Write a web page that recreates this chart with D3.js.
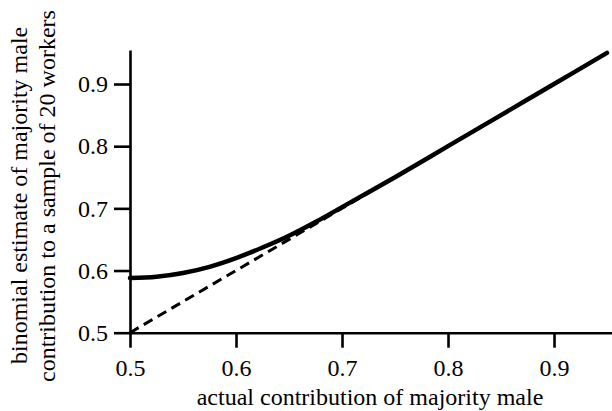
<!DOCTYPE html>
<html>
<head>
<meta charset="utf-8">
<script src="https://cdn.jsdelivr.net/npm/d3@7"></script>
<style>
  body { margin: 0; background: #fff; }
  svg { display: block; }
</style>
</head>
<body>
<script>
// actual contribution (x) and binomial estimate for a sample of 20 workers (y)
const actual = [0.50, 0.525, 0.55, 0.575, 0.60, 0.625, 0.65, 0.675, 0.70, 0.725, 0.75, 0.80, 0.85, 0.90, 0.95];
const estimate = [0.588, 0.590, 0.596, 0.606, 0.620, 0.637, 0.656, 0.678, 0.702, 0.726, 0.750, 0.800, 0.850, 0.900, 0.950];
// 1:1 reference line
const diagonal = [0.50, 0.95];
const xTicks = [0.5, 0.6, 0.7, 0.8, 0.9];
const yTicks = [0.5, 0.6, 0.7, 0.8, 0.9];
const xLabel = "actual contribution of majority male";
const yLabel = ["binomial estimate of majority male", "contribution to a sample of 20 workers"];

function createChart() {
    const width = 612;
    const height = 411;
    const font = "Liberation Serif";
    const fontSize = 24;

    const svg = d3.select("body")
        .append("svg")
        .attr("width", width)
        .attr("height", height);

    const x = d3.scaleLinear().domain([0.5, 0.9547]).range([130, 612]);
    const y = d3.scaleLinear().domain([0.5, 0.9547]).range([332.7, 50]);

    const xAxis = svg.append("g")
        .attr("transform", `translate(0,${y(0.5)})`)
        .call(d3.axisBottom(x).tickValues(xTicks).tickFormat(d3.format(".1f"))
            .tickSize(15).tickSizeOuter(0).tickPadding(11));

    const yAxis = svg.append("g")
        .attr("transform", `translate(${x(0.5)},0)`)
        .call(d3.axisLeft(y).tickValues(yTicks).tickFormat(d3.format(".1f"))
            .tickSize(16).tickSizeOuter(0).tickPadding(6));

    [xAxis, yAxis].forEach(g => {
        g.attr("font-family", font).attr("font-size", fontSize);
        g.selectAll("path, line").attr("stroke", "#000").attr("stroke-width", 2.6);
        g.selectAll("text").attr("fill", "#000");
    });

    // dashed diagonal
    svg.append("path")
        .datum(diagonal)
        .attr("fill", "none")
        .attr("stroke", "#000")
        .attr("stroke-width", 3)
        .attr("stroke-dasharray", "10,6")
        .attr("d", d3.line().x(d => x(d)).y(d => y(d)));

    // binomial estimate curve
    svg.append("path")
        .datum(actual.map((a, i) => [a, estimate[i]]))
        .attr("fill", "none")
        .attr("stroke", "#000")
        .attr("stroke-width", 4.5)
        .attr("stroke-linecap", "round")
        .attr("d", d3.line().x(d => x(d[0])).y(d => y(d[1])).curve(d3.curveCatmullRom));

    svg.append("text")
        .attr("x", 370)
        .attr("y", 405)
        .attr("text-anchor", "middle")
        .attr("font-family", font)
        .attr("font-size", fontSize)
        .text(xLabel);

    // rotated two-line y label, each line starting from the bottom
    [[27, 364], [55, 382]].forEach(([bx, by], i) => {
        svg.append("text")
            .attr("transform", `translate(${bx},${by}) rotate(-90)`)
            .attr("text-anchor", "start")
            .attr("font-family", font)
            .attr("font-size", fontSize)
            .text(yLabel[i]);
    });
}

createChart();
</script>
</body>
</html>
